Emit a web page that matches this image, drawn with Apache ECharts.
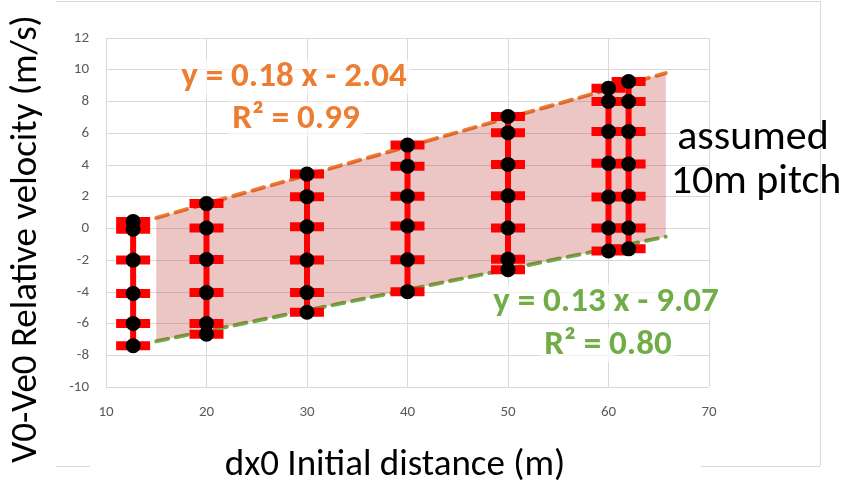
<!DOCTYPE html>
<html><head><meta charset="utf-8">
<script src="https://cdn.jsdelivr.net/npm/echarts@6/dist/echarts.min.js"></script>
<style>html,body{margin:0;padding:0;background:#fff}#c{width:855px;height:490px}</style>
</head><body><div id="c"></div>
<script>
// ---- data ----
const columnX = [12.7, 20, 30, 40, 50, 60, 62];
const columnValues = [
  [0.44, -0.06, -2.0, -4.1, -6.0, -7.4],
  [1.56, 0.02, -1.96, -4.05, -6.0, -6.67],
  [3.42, 2.0, 0.1, -2.0, -4.05, -5.29],
  [5.25, 3.92, 2.03, 0.15, -1.98, -3.99],
  [7.05, 6.03, 4.03, 2.05, 0.02, -1.94, -2.61],
  [8.84, 8.0, 6.1, 4.1, 1.98, 0.02, -1.43],
  [9.26, 8.0, 6.1, 4.05, 2.03, 0.02, -1.29]
];
const upperTrend = [[15, 0.66], [65.7, 9.79]];
const lowerTrend = [[15, -7.12], [65.7, -0.53]];
const upperLabel = ['y = 0.18 x - 2.04', 'R² = 0.99'];
const lowerLabel = ['y = 0.13 x - 9.07', 'R² = 0.80'];
const noteLabel = ['assumed', '10m pitch'];
const xAxisName = 'dx0 Initial distance (m)';
const yAxisName = 'V0-Ve0 Relative velocity (m/s)';
const xRange = [10, 70, 10];
const yRange = [-10, 12, 2];

// ---- build ----
const FONT = 'Carlito, Lato, sans-serif';
const points = [];
columnX.forEach((x, i) => columnValues[i].forEach(v => points.push([x, v])));
const verticalSeries = columnX.map((x, i) => ({
  type: 'line', z: 3, silent: true, symbol: 'none',
  data: [[x, Math.max(...columnValues[i])], [x, Math.min(...columnValues[i])]],
  lineStyle: { color: '#ff0000', width: 6 }
}));

const chart = echarts.init(document.getElementById('c'), null, { renderer: 'canvas' });
const labelBg = 'rgba(255,255,255,0.65)';
const option = {
  animation: false,
  grid: { left: 106, right: 146, top: 38, bottom: 103, containLabel: false },
  xAxis: {
    type: 'value', min: xRange[0], max: xRange[1], interval: xRange[2],
    axisLine: { show: true, lineStyle: { color: '#d9d9d9', width: 1 } },
    axisTick: { show: false },
    axisLabel: { color: '#595959', fontSize: 15, fontFamily: FONT, margin: 18 },
    splitLine: { show: true, lineStyle: { color: '#d9d9d9', width: 1 } }
  },
  yAxis: {
    type: 'value', min: yRange[0], max: yRange[1], interval: yRange[2],
    axisLine: { show: true, lineStyle: { color: '#d9d9d9', width: 1 } },
    axisTick: { show: false },
    axisLabel: { color: '#595959', fontSize: 15, fontFamily: FONT, margin: 17 },
    splitLine: { show: true, lineStyle: { color: '#d9d9d9', width: 1 } }
  },
  series: [
    { type: 'line', z: 1, silent: true, symbol: 'none', data: upperTrend,
      lineStyle: { color: '#ED7D31', width: 4, type: [12, 8], cap: 'round' } },
    { type: 'line', z: 1, silent: true, symbol: 'none', data: lowerTrend,
      lineStyle: { color: '#70AD47', width: 4, type: [12, 8], cap: 'round' } },
    { type: 'custom', z: 2, silent: true, data: [upperTrend[0]],
      renderItem: (params, api) => {
        const pts = [
          api.coord(upperTrend[0]), api.coord(upperTrend[1]),
          api.coord(lowerTrend[1]), api.coord(lowerTrend[0])
        ];
        return { type: 'polygon', shape: { points: pts },
                 style: { fill: 'rgba(180,30,30,0.26)' } };
      } },
    ...verticalSeries,
    { type: 'scatter', z: 4, silent: true, data: points, symbol: 'rect',
      symbolSize: [34, 9], itemStyle: { color: '#ff0000', opacity: 1 } },
    { type: 'scatter', z: 5, silent: true, data: points, symbol: 'circle',
      symbolSize: 15, itemStyle: { color: '#000000', opacity: 1 } }
  ],
  graphic: [
    { type: 'line', shape: { x1: 56, y1: 1.5, x2: 820, y2: 1.5 }, style: { stroke: '#d9d9d9', lineWidth: 1 }, silent: true },
    { type: 'line', shape: { x1: 820.5, y1: 1, x2: 820.5, y2: 466 }, style: { stroke: '#d9d9d9', lineWidth: 1 }, silent: true },
    { type: 'line', shape: { x1: 56, y1: 466.5, x2: 90, y2: 466.5 }, style: { stroke: '#d9d9d9', lineWidth: 1 }, silent: true },
    { type: 'line', shape: { x1: 701, y1: 466.5, x2: 820, y2: 466.5 }, style: { stroke: '#d9d9d9', lineWidth: 1 }, silent: true },
    { type: 'text', x: 294, y: 77, z: 10, style: { text: upperLabel[0], fill: '#ED7D31', font: 'bold 35px ' + FONT, align: 'center', verticalAlign: 'middle', backgroundColor: labelBg, padding: [0, 4] } },
    { type: 'text', x: 296, y: 119, z: 10, style: { text: upperLabel[1], fill: '#ED7D31', font: 'bold 35px ' + FONT, align: 'center', verticalAlign: 'middle', backgroundColor: labelBg, padding: [0, 4] } },
    { type: 'text', x: 606, y: 302, z: 10, style: { text: lowerLabel[0], fill: '#70AD47', font: 'bold 35px ' + FONT, align: 'center', verticalAlign: 'middle', backgroundColor: labelBg, padding: [0, 4] } },
    { type: 'text', x: 608, y: 345, z: 10, style: { text: lowerLabel[1], fill: '#70AD47', font: 'bold 35px ' + FONT, align: 'center', verticalAlign: 'middle', backgroundColor: labelBg, padding: [0, 4] } },
    { type: 'text', x: 753, y: 138, z: 10, style: { text: noteLabel[0], fill: '#000000', font: '42px ' + FONT, align: 'center', verticalAlign: 'middle' } },
    { type: 'text', x: 756, y: 182, z: 10, style: { text: noteLabel[1], fill: '#000000', font: '42px ' + FONT, align: 'center', verticalAlign: 'middle' } },
    { type: 'text', x: 395, y: 466, z: 10, style: { text: xAxisName, fill: '#000000', font: '37px ' + FONT, align: 'center', verticalAlign: 'middle' } },
    { type: 'text', x: 27, y: 239, rotation: Math.PI / 2, z: 10, style: { text: yAxisName, fill: '#000000', font: '37px ' + FONT, align: 'center', verticalAlign: 'middle' } }
  ]
};
chart.setOption(option);
</script></body></html>
